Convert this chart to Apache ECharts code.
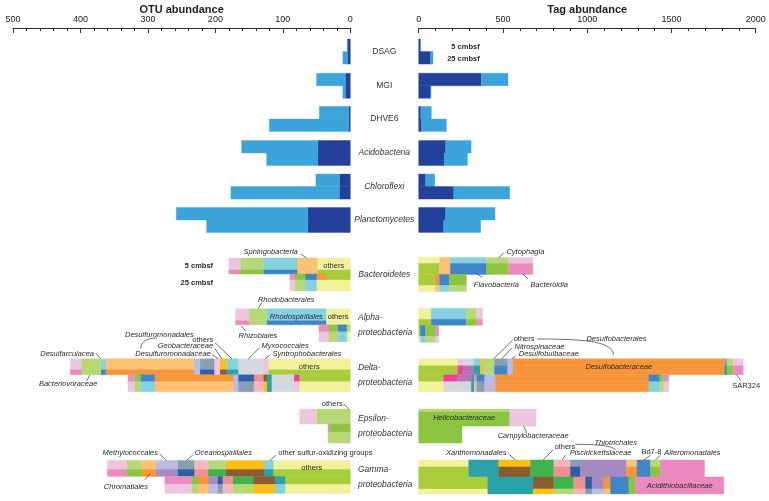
<!DOCTYPE html>
<html><head><meta charset="utf-8">
<script src="https://cdn.jsdelivr.net/npm/echarts@6/dist/echarts.min.js"></script>
<style>html,body{margin:0;padding:0;background:#fff}#c{width:769px;height:501px}</style>
</head><body><div id="c"></div>
<script>
// ================= DATA =================
const groupNames = ['DSAG','MGI','DHVE6','Acidobacteria','Chloroflexi','Planctomycetes','Bacteroidetes',
  'Alpha-\nproteobacteria','Delta-\nproteobacteria','Epsilon-\nproteobacteria','Gamma-\nproteobacteria'];
const groupItalic = [false,false,false,true,true,true,true,true,true,true,true];
const depthNames = ['5 cmbsf','25 cmbsf'];
const otuTickValues = [0,100,200,300,400,500];
const tagTickValues = [0,500,1000,1500,2000];

// upper six groups: dark part and total for each depth
const otuDark5   = [4, 7, 2, 48, 16, 63];
const otuTotal5  = [4, 50, 46, 161, 51, 258];
const otuDark25  = [4, 7, 2, 48, 16, 63];
const otuTotal25 = [11, 11, 120, 124, 177, 213];
const tagDark5   = [10, 372, 12, 160, 41, 160];
const tagTotal5  = [10, 530, 75, 311, 95, 453];
const tagDark25  = [70, 71, 16, 152, 208, 148];
const tagTotal25 = [85, 71, 164, 289, 540, 368];

// lower groups: 4 layers (5 cmbsf coarse, 5 cmbsf fine, 25 cmbsf fine, 25 cmbsf coarse), [taxon class, abundance]
const bacteroidetesOTU = [
  [['yl',49],['ol',30],['cy',50],['gl',34],['pl',17]],
  [['gy',49],['ol',30],['b',50],['g',34],['p',17]],
  [['gy',36],['o',14],['b',17],['g',15],['p',7.5]],
  [['yl',50],['cy',17],['gl',15],['pl',7.5]]];
const bacteroidetesTag = [
  [['yl',123],['ol',65],['cy',214],['gl',132],['pl',143]],
  [['gy',123],['ol',65],['b',214],['g',132],['p',143]],
  [['gy',99],['o',24],['b',59],['g',101]],
  [['yl',99],['ol',24],['cy',59],['gl',101]]];
const alphaOTU = [
  [['yl',36],['cy',88],['gl',26],['pl',20]],
  [['yl',36],['b',88],['gl',26],['p',20]],
  [['gl',5.4],['b',13.4],['g',13.9],['p',13.8]],
  [['yl',5.4],['cy',13.4],['gl',13.9],['pl',13.8]]];
const alphaTag = [
  [['yl',75],['cy',206],['gl',62],['pl',35]],
  [['gy',75],['b',206],['g',62],['p',35]],
  [['gy',10],['b',30],['g',59],['p',20]],
  [['yl',10],['cy',30],['gl',59],['pl',20]]];
const deltaOTU = [
  [['yl',121.7],['pl',8.3],['gr',36.3],['cy',17.2],['au',9.9],['pl',8.6],['gb',21],['lv',9],['ol',130.7],['cy',7.3],['gl',28.8],['pl',16.2]],
  [['gy',121.7],['pl',8.3],['gr',36.3],['t',17.2],['br',9.9],['pl',8.6],['bd',21],['lv',9],['o',130.7],['b',7.3],['gl',28.8],['p',16.2]],
  [['gy',75.7],['m',7.9],['gr',33.1],['t',7],['br',5.3],['s',14],['bd',23.3],['lv',7.4],['o',116.3],['b',21.2],['g',8.4],['p',10]],
  [['yl',75.7],['pl',7.9],['gr',33.1],['t',7],['au',5.3],['sl',14],['gb',23.3],['lv',7.4],['ol',116.3],['cy',21.2],['gl',8.4],['pl',10]]];
const deltaTag = [
  [['yl',232],['pl',35],['gr',60],['cy',39],['au',16],['gl',68],['gb',78],['lv',32],['o',1255],['gb',15],['gl',36],['pl',60]],
  [['gy',232],['m',35],['mv',60],['t',39],['au',16],['gl',68],['b',78],['lv',32],['o',1255],['t',15],['g',36],['p',60]],
  [['gy',148],['m',84],['mv',80],['t',18],['s',15],['b',47],['lv',63],['o',911],['b',65],['g',24],['p',29]],
  [['yl',148],['gr',84],['gr',80],['t',18],['sl',15],['gb',47],['lv',63],['o',911],['cy',65],['gl',24],['pl',29]]];
const epsilonOTU = [
  [['gl',50],['pl',25]],
  [],
  [['g',31],['p',2]],
  [['gl',33]]];
const epsilonTag = [
  [['gl',540],['pl',157]],
  [['g',540],['pl',157]],
  [['g',257]],
  []];
const gammaOTU = [
  [['yl',114.3],['cy',13.7],['au',56.5],['gl',26.3],['sl',20.8],['gb',24.6],['lv',32.3],['ol',21.2],['gl',22.3],['pl',28]],
  [['gy',114.3],['t',13.7],['br',56.5],['gd',26.3],['s',20.8],['bd',24.6],['pu',32.3],['o',21.2],['g',22.3],['p',28]],
  [['gy',96.9],['t',14.9],['br',32.2],['gd',30.6],['s',14.8],['bd',7.5],['pu',13.9],['o',14.9],['g',9.8],['p',39.5]],
  [['yl',96.9],['cy',14.9],['au',32.2],['gl',30.6],['sl',14.8],['gb',7.5],['lv',13.9],['ol',14.9],['gl',9.8],['pl',39.5]]];
const gammaTag = [
  [['yl',297],['t',178],['au',188],['gd',139],['sl',98],['gb',60],['pu',273],['ol',63],['b',80],['gl',59],['p',261]],
  [['gy',297],['t',178],['br',188],['gd',139],['s',98],['bd',60],['pu',273],['o',63],['b',80],['g',59],['p',261]],
  [['gy',410],['t',269],['br',123],['gd',118],['s',70],['bd',39],['pu',70],['o',39],['b',109],['g',40],['p',524]],
  [['yl',410],['t',269],['au',123],['gl',118],['sl',70],['gb',39],['lv',70],['ol',39],['b',109],['g',40],['p',524]]];
const lowerOTU = [bacteroidetesOTU, alphaOTU, deltaOTU, epsilonOTU, gammaOTU];
const lowerTag = [bacteroidetesTag, alphaTag, deltaTag, epsilonTag, gammaTag];

// ================= STYLE / LAYOUT =================
const FONT = 'Liberation Sans, Arial, Helvetica, sans-serif';
const taxonColours = {
  dk:'#23409a', lb:'#3ca4db',
  yl:'#f2f19c', gy:'#a9cd3a', gl:'#b6d877', g:'#8cc540', gd:'#3fb44c',
  pl:'#eec5df', p:'#ec89bf', m:'#ec4197', cy:'#86d1e0', b:'#3d86c8', bd:'#2c5ea9',
  ol:'#fbc272', o:'#f7953a', lv:'#b8bce2', gb:'#889fb1', gr:'#d4d8dc',
  sl:'#f6b7bc', s:'#f08e92', au:'#fdbf12', br:'#8a5c30', t:'#28a3a9', pu:'#a58ac3', mv:'#b773b3'
};
const colourKeys = Object.keys(taxonColours);
const rowPos = [1.39, 3.41, 5.37, 7.38, 9.36, 11.33, 14.55, 17.55, 20.5, 23.5, 26.5];
const topBarH = 12.5;
const layerH = {
  otu: [[12,4,6,11],[12,4,7,10],[11,5,7,10],[15,0,8,11],[9,7,8,9]],
  tag: [[6,11,11,6],[11,6,11,6],[7,9,7,10],[3,14,17,0],[7,10,12,5]]
};

function pushLayer(rects, segs, r, off, h) {
  if (!h) return;
  let acc = 0;
  segs.forEach(([k, w]) => { rects.push([acc, acc + w, r, off, h, colourKeys.indexOf(k)]); acc += w; });
}
function buildRects(side) {
  const rects = [];
  const d5 = side === 'otu' ? otuDark5 : tagDark5, t5 = side === 'otu' ? otuTotal5 : tagTotal5;
  const d25 = side === 'otu' ? otuDark25 : tagDark25, t25 = side === 'otu' ? otuTotal25 : tagTotal25;
  for (let g = 0; g < 6; g++) {
    pushLayer(rects, [['dk', d5[g]], ['lb', t5[g] - d5[g]]], rowPos[g], -topBarH, topBarH);
    pushLayer(rects, [['dk', d25[g]], ['lb', t25[g] - d25[g]]], rowPos[g], 0, topBarH);
  }
  const lower = side === 'otu' ? lowerOTU : lowerTag;
  lower.forEach((layers, i) => {
    const hs = layerH[side][i];
    const total = hs.reduce((a, b) => a + b, 0);
    let off = -total / 2;
    layers.forEach((segs, l) => { pushLayer(rects, segs, rowPos[6 + i], off, hs[l]); off += hs[l]; });
  });
  return rects;
}

const innerLabels = [
  {side:'otu', g:6, layer:0, seg:0, half:0, text:'others'},
  {side:'otu', g:7, layer:0, seg:0, half:0, text:'others'},
  {side:'otu', g:7, layer:0, seg:1, half:0, text:'Rhodospirillales', it:true},
  {side:'otu', g:8, layer:0, seg:0, half:0, text:'others'},
  {side:'otu', g:10, layer:0, seg:0, half:0, text:'others'},
  {side:'tag', g:8, layer:0, seg:8, half:0, text:'Desulfobacteraceae', it:true},
  {side:'tag', g:9, layer:1, seg:0, half:0, text:'Helicobacteraceae', it:true},
  {side:'tag', g:10, layer:3, seg:10, half:1, text:'Acidithiobacillaceae', it:true}
];
function innerData(side) {
  const out = [];
  innerLabels.forEach((L, idx) => {
    if (L.side !== side) return;
    const gi = L.g - 6;
    const layers = (side === 'otu' ? lowerOTU : lowerTag)[gi];
    const hs = layerH[side][gi];
    const total = hs.reduce((a, b) => a + b, 0);
    let s = 0;
    for (let k = 0; k < L.seg; k++) s += layers[L.layer][k][1];
    const mid = s + layers[L.layer][L.seg][1] / 2;
    const dy = L.half === 0 ? -total / 2 + (hs[0] + hs[1]) / 2 : -total / 2 + hs[0] + hs[1] + (hs[2] + hs[3]) / 2;
    out.push([mid, rowPos[L.g], dy, idx]);
  });
  return out;
}

const callouts = {
  otu: [
    {g:6, v:65, ady:-16.5, l:[-5.7,-4], t:[-8.7,-6], a:'right', text:'Sphingobacteria'},
    {g:7, v:137, ady:-16.5, l:[3.7,-6], t:[0,-8.5], a:'left', text:'Rhodobacterales'},
    {g:7, v:161.6, ady:0.7, l:[4.3,4.7], t:[-2.7,9.7], a:'left', text:'Rhizobiales'},
    {g:8, v:370, ady:-16.5, l:[-5,-5.8], t:[-6.7,-4.8], a:'right', text:'Desulfarculacea'},
    {g:8, v:386, ady:-0.3, l:[-3,5.7], t:[7.4,9], a:'right', text:'Bacteriovoraceae'},
    {g:8, v:232, ady:-16.5, t:[0,-24.3], a:'right', text:'Desulfuromonadales', curve:[-53,-10.3,-53,-17,-47,-20.8,-37,-20.8]},
    {g:8, v:175.6, ady:-16.5, l:[-17,-16.3], t:[-18.7,-18.6], a:'right', text:'others', up:true},
    {g:8, v:190.5, ady:-16.5, l:[-7,-10.5], t:[-8.7,-12.6], a:'right', text:'Geobacteraceae'},
    {g:8, v:196, ady:-16.5, l:[-6,-4.3], t:[-7.3,-5.2], a:'right', text:'Desulfuromonadaceae'},
    {g:8, v:151, ady:-16.5, l:[11.4,-11.3], t:[13.1,-13.3], a:'left', text:'Myxococcales'},
    {g:8, v:126.6, ady:-16.5, l:[5,-3.8], t:[7.7,-5.3], a:'left', text:'Syntrophobacterales'},
    {g:9, v:2, ady:-17, l:[-5,-5], t:[-6.3,-5], a:'right', text:'others', up:true},
    {g:10, v:272.6, ady:-16.5, l:[-6.7,-6.4], t:[-8.4,-7.1], a:'right', text:'Methylococcales'},
    {g:10, v:297, ady:-2.9, l:[-5.2,6], t:[-1.9,13], a:'right', text:'Chromatiales'},
    {g:10, v:243, ady:-16.5, l:[6.4,-5.4], t:[8.4,-7.1], a:'left', text:'Oceanospirillales'},
    {g:10, v:119, ady:-16.5, l:[5.9,-5.4], t:[8.2,-7.1], a:'left', text:'other sulfur-oxidizing groups', up:true},
    {g:6, v:203.4, ady:-8.5, t:[0,0], a:'right', text:depthNames[0], bold:true},
    {g:6, v:203.4, ady:8.2, t:[0,0], a:'right', text:depthNames[1], bold:true}
  ],
  tag: [
    {g:6, v:475, ady:-17, l:[5,-4.5], t:[7.7,-5.5], a:'left', text:'Cytophagia'},
    {g:6, v:343, ady:-1, l:[5.6,3.8], t:[-2.7,11.2], a:'left', text:'Flavobacteria'},
    {g:6, v:619, ady:-0.5, l:[4.8,5], t:[7.5,11], a:'left', text:'Bacteroidia'},
    {g:8, v:445, ady:-16.5, l:[19,-18.8], t:[20,-19.8], a:'left', text:'others', up:true, curve:[43.3,-19.8,100,-19.8,118,-16,120,-3.8]},
    {g:8, v:445, ady:-16.5, t:[92.7,-19.8], a:'left', text:'Desulfobacterales'},
    {g:8, v:493, ady:-16.5, l:[10,-10.8], t:[12.7,-12.1], a:'left', text:'Nitrospinaceae'},
    {g:8, v:552, ady:-16.5, l:[4,-2.8], t:[7,-4.8], a:'left', text:'Desulfobulbaceae'},
    {g:8, v:1887, ady:-0.5, l:[4.5,6], t:[-4.5,11], a:'left', text:'SAR324', up:true},
    {g:9, v:623, ady:0, l:[3.3,7.2], t:[-26,10], a:'left', text:'Campylobacteraceae'},
    {g:10, v:574, ady:-17, l:[-6.7,-5.9], t:[-9,-6.6], a:'right', text:'Xanthomonadales'},
    {g:10, v:738, ady:-17, l:[10,-9.9], t:[11.4,-12.6], a:'left', text:'others', up:true, curve:[32.4,-15.6,55,-15.6,70,-14,72.7,-9.9]},
    {g:10, v:738, ady:-17, t:[51.4,-17.2], a:'left', text:'Thiotrichales'},
    {g:10, v:851, ady:-17, l:[3.4,-4.9], t:[7.7,-6.6], a:'left', text:'Piscirickettsiaceae'},
    {g:10, v:1336, ady:-17, l:[6.7,-4.9], t:[7.6,-7.6], a:'center', text:'Bd7-8', up:true},
    {g:10, v:1405, ady:-17, l:[5.1,-4.9], t:[8.8,-6.9], a:'left', text:'Alteromonadales'},
    {g:0, v:362, ady:-4.8, t:[0,0], a:'right', text:depthNames[0], bold:true},
    {g:0, v:362, ady:7.5, t:[0,0], a:'right', text:depthNames[1], bold:true}
  ]
};

// ================= RENDER =================
function rectItem(params, api) {
  const s = api.value(0), e = api.value(1), r = api.value(2), off = api.value(3), h = api.value(4), ci = api.value(5);
  const p0 = api.coord([s, r]), p1 = api.coord([e, r]);
  const col = taxonColours[colourKeys[ci]];
  return {type:'rect', shape:{x:Math.min(p0[0], p1[0]), y:p0[1] + off, width:Math.abs(p1[0] - p0[0]), height:h},
    style:{fill:col, stroke:col, lineWidth:0.4}};
}
function innerItem(params, api) {
  const L = innerLabels[api.value(3)];
  const p = api.coord([api.value(0), api.value(1)]);
  return {type:'text', x:p[0], y:p[1] + api.value(2), style:{text:L.text, fontSize:7.5, fontFamily:FONT,
    fontStyle:L.it ? 'italic' : 'normal', fill:'#2a2a2a', align:'center', verticalAlign:'middle'}};
}
function calloutRenderer(side) {
  return function (params, api) {
    const c = callouts[side][api.value(2)];
    const a = api.coord([c.v, rowPos[c.g]]);
    const ax = a[0], ay = a[1] + c.ady;
    const children = [];
    if (c.l) children.push({type:'line', shape:{x1:ax + c.l[0], y1:ay + c.l[1], x2:ax, y2:ay}, style:{stroke:'#333', lineWidth:0.7}});
    if (c.curve) {
      const q = c.curve;
      children.push({type:'bezierCurve', shape:{x1:ax + q[0], y1:ay + q[1], cpx1:ax + q[2], cpy1:ay + q[3], cpx2:ax + q[4], cpy2:ay + q[5], x2:ax + q[6], y2:ay + q[7]},
        style:{stroke:'#333', fill:null, lineWidth:0.7}});
    }
    children.push({type:'text', x:ax + c.t[0], y:ay + c.t[1], style:{text:c.text, fontSize:7.5, fontFamily:FONT,
      fontStyle:(c.up || c.bold) ? 'normal' : 'italic', fontWeight:c.bold ? 'bold' : 'normal', fill:'#2a2a2a', align:c.a, verticalAlign:'middle'}});
    return {type:'group', children};
  };
}
function groupLabelItem(params, api) {
  const i = api.value(2);
  const p = api.coord([0, api.value(1)]);
  const multi = groupNames[i].indexOf('\n') >= 0;
  return {type:'text', x:multi ? p[0] + 7.7 : p[0] + 34, y:p[1], style:{text:groupNames[i], fontSize:8.5, fontFamily:FONT,
    fontStyle:groupItalic[i] ? 'italic' : 'normal', fill:'#333', align:multi ? 'left' : 'center', verticalAlign:'middle', lineHeight:14.5}};
}

const axisCommon = {
  type:'value', position:'top', nameLocation:'middle', nameGap:12.5, nameMoveOverlap:false,
  nameTextStyle:{fontSize:11, fontWeight:'bold', color:'#222', fontFamily:FONT},
  axisLine:{show:true, lineStyle:{color:'#333', width:1}},
  axisTick:{show:true, inside:true, length:5, lineStyle:{color:'#333', width:1}},
  minorTick:{show:true, splitNumber:5, length:3, lineStyle:{color:'#333', width:1}},
  axisLabel:{fontSize:9, color:'#222', margin:4, fontFamily:FONT, formatter:(v) => String(v)},
  splitLine:{show:false}, minorSplitLine:{show:false}
};
const yCommon = {type:'value', min:0, max:27, inverse:true, show:false};

const chart = echarts.init(document.getElementById('c'), null, {renderer:'canvas'});
chart.setOption({
  animation:false,
  backgroundColor:'#fff',
  grid:[{left:13, right:418.7, top:28, bottom:15.6, containLabel:false, outerBoundsMode:'none'},
        {left:418.7, right:13.3, top:28, bottom:15.6, containLabel:false, outerBoundsMode:'none'}],
  xAxis:[
    Object.assign({}, axisCommon, {gridIndex:0, min:otuTickValues[0], max:otuTickValues[otuTickValues.length - 1],
      interval:otuTickValues[1] - otuTickValues[0], inverse:true, name:'OTU abundance'}),
    Object.assign({}, axisCommon, {gridIndex:1, min:tagTickValues[0], max:tagTickValues[tagTickValues.length - 1],
      interval:tagTickValues[1] - tagTickValues[0], name:'Tag abundance'})
  ],
  yAxis:[Object.assign({gridIndex:0}, yCommon), Object.assign({gridIndex:1}, yCommon)],
  series:[
    {type:'custom', xAxisIndex:0, yAxisIndex:0, clip:false, renderItem:rectItem, data:buildRects('otu'), encode:{x:[0,1], y:2}, silent:true},
    {type:'custom', xAxisIndex:1, yAxisIndex:1, clip:false, renderItem:rectItem, data:buildRects('tag'), encode:{x:[0,1], y:2}, silent:true},
    {type:'custom', xAxisIndex:0, yAxisIndex:0, clip:false, renderItem:innerItem, data:innerData('otu'), encode:{x:0, y:1}, silent:true, z:5},
    {type:'custom', xAxisIndex:1, yAxisIndex:1, clip:false, renderItem:innerItem, data:innerData('tag'), encode:{x:0, y:1}, silent:true, z:5},
    {type:'custom', xAxisIndex:0, yAxisIndex:0, clip:false, renderItem:calloutRenderer('otu'),
      data:callouts.otu.map((c, i) => [c.v, rowPos[c.g], i]), encode:{x:0, y:1}, silent:true, z:6},
    {type:'custom', xAxisIndex:1, yAxisIndex:1, clip:false, renderItem:calloutRenderer('tag'),
      data:callouts.tag.map((c, i) => [c.v, rowPos[c.g], i]), encode:{x:0, y:1}, silent:true, z:6},
    {type:'custom', xAxisIndex:0, yAxisIndex:0, clip:false, renderItem:groupLabelItem,
      data:rowPos.map((r, i) => [0, r, i]), encode:{x:0, y:1}, silent:true, z:6}
  ]
});
</script></body></html>
